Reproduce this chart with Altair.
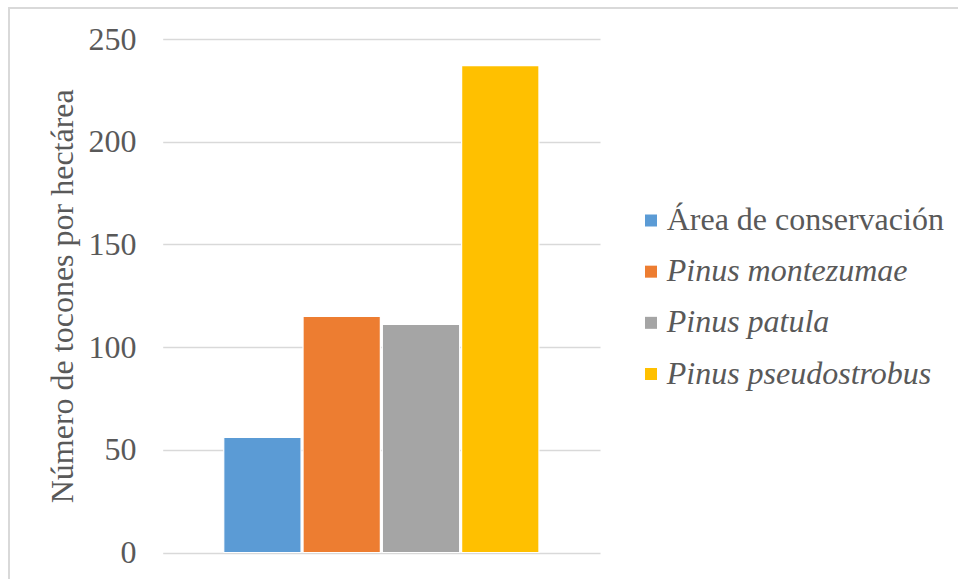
import altair as alt
import pandas as pd

# Stumps per hectare by stand type
series = ["Área de conservación", "Pinus montezumae", "Pinus patula", "Pinus pseudostrobus"]
values = [56, 115, 111, 237]
italic = [False, True, True, True]
colors = ["#5B9BD5", "#ED7D31", "#A5A5A5", "#FFC000"]

df = pd.DataFrame({"serie": series, "valor": values, "cursiva": italic})

FONT = "Liberation Serif"
TEXT = "#595959"
GRID = "#D9D9D9"

W, H = 437.3, 513.5
PAD = {"left": 162.7, "top": 39, "right": 358, "bottom": 26.5}

color_scale = alt.Scale(domain=series, range=colors)

base = alt.Chart(df)

# Light frame around the whole figure
frame = base.mark_rect(fill=None, stroke=GRID, strokeWidth=1.3).encode(
    x=alt.value(-153.7), x2=alt.value(W + 400),
    y=alt.value(-31), y2=alt.value(H + 100),
)

bars = base.mark_bar(stroke="white", strokeWidth=1.2).encode(
    x=alt.X("serie:N", sort=series,
            scale=alt.Scale(domain=series, paddingInner=0.025, paddingOuter=0.77),
            axis=None),
    y=alt.Y("valor:Q",
            scale=alt.Scale(domain=[0, 250], nice=False),
            axis=alt.Axis(
                values=[0, 50, 100, 150, 200, 250],
                title="Número de tocones por hectárea",
                domain=False, ticks=False,
                grid=True, gridColor=GRID, gridWidth=1.3,
                labelFont=FONT, labelFontSize=32, labelColor=TEXT,
                labelPadding=26.7, labelBaseline="middle",
                titleFont=FONT, titleFontSize=32, titleColor=TEXT,
                titleFontWeight="normal",
                titleAngle=270, titleAlign="center", titleBaseline="alphabetic",
                titleX=-90, titleY=H / 2,
            )),
    color=alt.Color("serie:N", scale=color_scale, legend=None),
)

# Legend built from marks so that species names can be italic
leg_y = alt.Y("serie:N", sort=series,
              scale=alt.Scale(type="point", domain=series, range=[181.5, 335], padding=0),
              axis=None)

leg_sq = base.mark_square(size=144, opacity=1).encode(
    x=alt.value(488.3), y=leg_y,
    color=alt.Color("serie:N", scale=color_scale, legend=None),
)
leg_txt_normal = base.transform_filter("!datum.cursiva").mark_text(
    align="left", baseline="alphabetic", dy=9.5,
    font=FONT, fontSize=32, color=TEXT,
).encode(x=alt.value(504), y=leg_y, text="serie:N")
leg_txt_italic = base.transform_filter("datum.cursiva").mark_text(
    align="left", baseline="alphabetic", dy=9.5,
    font=FONT, fontSize=32, fontStyle="italic", color=TEXT,
).encode(x=alt.value(504), y=leg_y, text="serie:N")

legend = alt.layer(leg_sq, leg_txt_normal, leg_txt_italic)

chart = alt.layer(frame, bars, legend).resolve_scale(
    y="independent", x="independent"
).properties(
    width=W, height=H,
    padding=PAD,
    autosize=alt.AutoSizeParams(type="none"),
    background="white",
).configure_view(stroke=None)

chart.save("out.html", embed_options={"renderer": "svg", "actions": False})
